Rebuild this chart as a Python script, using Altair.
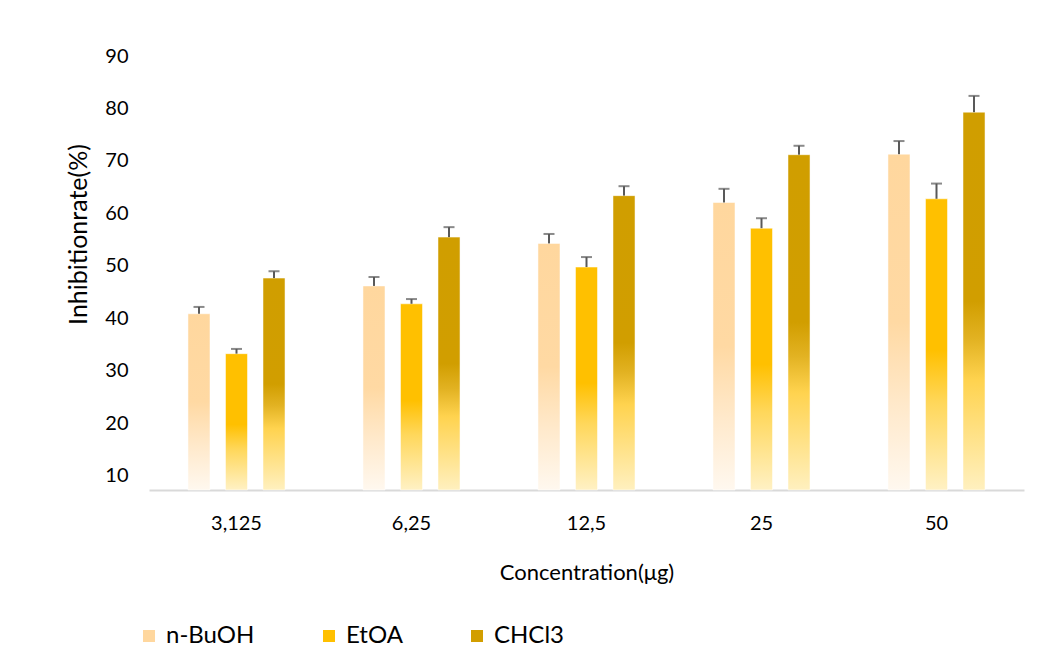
import altair as alt
import pandas as pd

concentrations = ["3,125", "6,25", "12,5", "25", "50"]
series = ["n-BuOH", "EtOA", "CHCl3"]
nbuoh = [40.9, 46.2, 54.3, 62.1, 71.3]
nbuoh_err = [1.3, 1.7, 1.8, 2.6, 2.5]
etoa = [33.3, 42.8, 49.8, 57.2, 62.8]
etoa_err = [0.9, 0.9, 1.9, 1.9, 2.9]
chcl3 = [47.7, 55.5, 63.4, 71.2, 79.3]
chcl3_err = [1.3, 1.9, 1.8, 1.7, 3.1]
y_ticks = [10, 20, 30, 40, 50, 60, 70, 80, 90]
solid_colors = ["#FFD79E", "#FFC000", "#D29E00"]

Y_MIN, Y_MAX = 7.33, 90.0

rows = []
for s, vals, errs in [("n-BuOH", nbuoh, nbuoh_err), ("EtOA", etoa, etoa_err), ("CHCl3", chcl3, chcl3_err)]:
    for c, v, e in zip(concentrations, vals, errs):
        rows.append({"conc": c, "series": s, "value": v, "upper": v + e, "base": Y_MIN})
df = pd.DataFrame(rows)

gradients = {
    "n-BuOH": [("#FFF8EF", 0.0), ("#FFE9CB", 0.25), ("#FFD9A3", 0.5), ("#FFD79E", 1.0)],
    "EtOA": [("#FFF1C4", 0.0), ("#FFD75A", 0.3), ("#FFC000", 0.48), ("#FFC000", 1.0)],
    "CHCl3": [("#FFF0BF", 0.0), ("#FFD34F", 0.29), ("#E2B222", 0.4), ("#D19E00", 0.5), ("#D09E00", 1.0)],
}

x_axis = alt.Axis(
    title="Concentration(μg)",
    labelAngle=0,
    labelFontSize=20,
    labelColor="#000000",
    labelPadding=23,
    ticks=False,
    domainColor="#D9D9D9",
    domainWidth=2,
    grid=False,
    titleFontSize=22,
    titleFontWeight="normal",
    titleColor="#000000",
    titleBaseline="top",
    titleY=72,
)
x_enc = alt.X(
    "conc:N",
    sort=concentrations,
    scale=alt.Scale(paddingInner=0.357, paddingOuter=0.1785),
    axis=x_axis,
)
xoff_enc = alt.XOffset(
    "series:N",
    sort=series,
    scale=alt.Scale(domain=series, paddingInner=0.413, paddingOuter=0.2065),
)
y_scale = alt.Scale(domain=[Y_MIN, Y_MAX], nice=False, zero=False)
y_axis = alt.Axis(
    title="Inhibitionrate(%)",
    values=y_ticks,
    labelFontSize=20,
    labelColor="#000000",
    labelPadding=21,
    ticks=False,
    domain=False,
    grid=False,
    titleFontSize=25,
    titleFontWeight="normal",
    titleColor="#000000",
    titleAngle=-90,
    titleX=-71,
    titleY=178,
    titleBaseline="middle",
    titleAlign="center",
)

base = alt.Chart(df)
layers = []
for s in series:
    grad = alt.Gradient(
        gradient="linear",
        x1=0, x2=0, y1=1, y2=0,
        stops=[alt.GradientStop(color=c, offset=o) for c, o in gradients[s]],
    )
    layers.append(
        base.transform_filter(alt.datum.series == s)
        .mark_bar(fill=grad, stroke="#FFFFFF", strokeOpacity=0.5, strokeWidth=1)
        .encode(
            x=x_enc,
            xOffset=xoff_enc,
            y=alt.Y("value:Q", scale=y_scale, axis=y_axis),
            y2=alt.Y2("base:Q"),
        )
    )

legend_layer = base.mark_point(filled=True, opacity=0, size=1).encode(
    x=x_enc,
    xOffset=xoff_enc,
    y=alt.Y("value:Q", scale=y_scale, axis=y_axis),
    color=alt.Color(
        "series:N",
        scale=alt.Scale(domain=series, range=solid_colors),
        legend=alt.Legend(
            title=None,
            orient="none",
            direction="horizontal",
            legendX=-12,
            legendY=568,
            symbolType="square",
            symbolSize=144,
            symbolOpacity=1,
            symbolStrokeWidth=0,
            labelFontSize=24,
            labelColor="#000000",
            labelOffset=5,
            columnPadding=62,
        ),
    ),
)

err_rule = base.mark_rule(color="#595959", strokeWidth=2).encode(
    x=x_enc,
    xOffset=xoff_enc,
    y=alt.Y("value:Q", scale=y_scale, axis=y_axis),
    y2="upper:Q",
)
err_cap = base.mark_tick(color="#595959", thickness=2, size=11, orient="horizontal").encode(
    x=x_enc,
    xOffset=xoff_enc,
    y=alt.Y("upper:Q", scale=y_scale, axis=y_axis),
)

chart = (
    alt.layer(*layers, err_rule, err_cap, legend_layer)
    .properties(
        width=875,
        height=434,
        autosize=alt.AutoSizeParams(type="none"),
        padding={"left": 141, "top": 48, "right": 26, "bottom": 168},
        background="#FFFFFF",
    )
    .configure(font="Lato")
    .configure_view(stroke="transparent", strokeWidth=0)
    .configure_axis(grid=False)
)

chart.save("out.html", embed_options={"renderer": "svg", "actions": False})
